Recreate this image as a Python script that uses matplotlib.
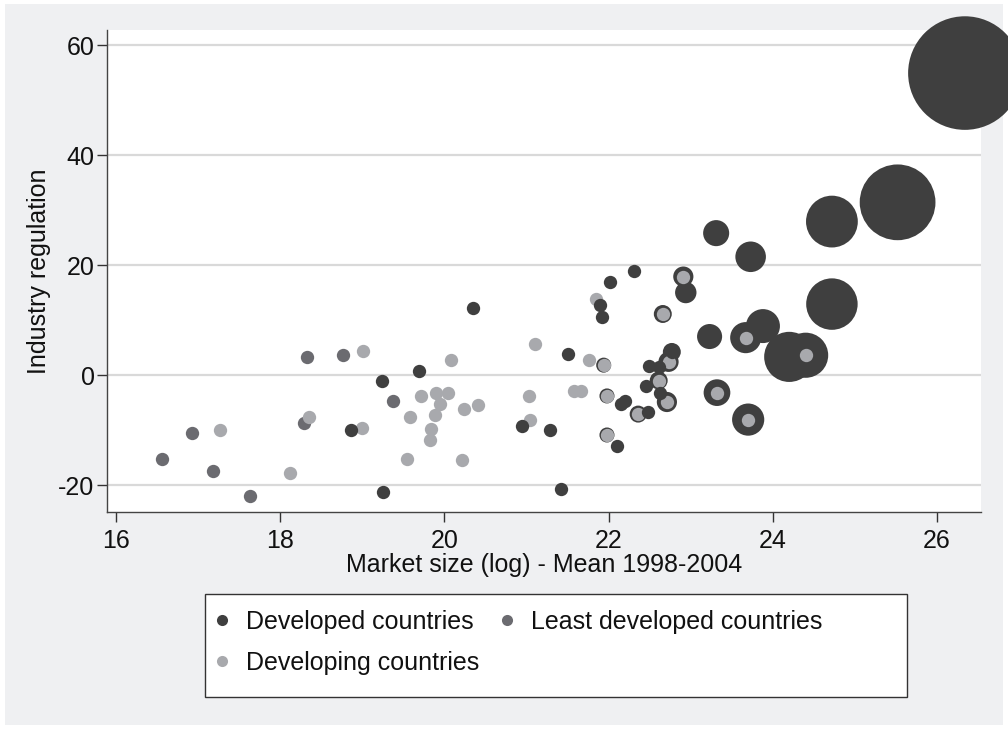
import matplotlib
matplotlib.use("Agg")
import matplotlib.pyplot as plt
from matplotlib.patches import Rectangle
from matplotlib.lines import Line2D
import numpy as np

plt.rcParams['font.family'] = ['Liberation Sans', 'DejaVu Sans']
plt.rcParams['axes.unicode_minus'] = False

# Developed countries: market size (log), industry regulation, bubble weight
dev_x = [19.24, 19.69, 18.86, 19.25, 20.35, 20.94, 21.29, 21.42, 21.51, 22.31,
         22.02, 21.90, 21.92, 22.94, 22.15, 22.20, 22.48, 22.10, 22.49, 22.61,
         22.77, 22.46, 22.63, 23.31, 23.73, 23.23, 23.88, 24.20, 24.72, 24.72,
         25.52, 26.34]
dev_y = [-1.0, 0.7, -10.0, -21.2, 12.1, -9.2, -10.0, -20.8, 3.8, 19.0,
         17.0, 12.8, 10.5, 15.0, -5.3, -4.7, -6.7, -12.9, 1.6, 1.5,
         4.2, -2.0, -3.2, 25.8, 21.5, 7.0, 8.9, 3.3, 27.9, 12.9,
         31.4, 54.9]
dev_w = [0.5, 0.5, 0.5, 0.5, 0.5, 0.5, 0.5, 0.5, 0.5, 0.5,
         0.5, 0.5, 0.5, 2.7, 0.5, 0.5, 0.5, 0.5, 0.5, 0.5,
         1.9, 0.5, 0.5, 4.0, 5.5, 3.7, 6.8, 14.8, 15.8, 15.6,
         33.8, 76.0]

# Least developed countries
ldc_x = [18.33, 18.29, 16.92, 16.56, 17.18, 17.63, 18.77, 19.37]
ldc_y = [3.3, -8.8, -10.6, -15.3, -17.4, -22.0, 3.6, -4.7]
ldc_w = [0.5, 0.5, 0.5, 0.5, 0.5, 0.5, 0.5, 0.5]

# Developing countries
dvg_x = [18.35, 17.27, 18.12, 19.01, 19.71, 19.58, 19.00, 19.55, 19.84, 19.83,
         19.88, 19.90, 20.04, 19.95, 20.08, 20.24, 20.41, 20.22, 21.10, 21.03,
         21.04, 21.58, 21.66, 21.76, 21.85, 21.94, 21.98, 21.98, 22.36, 22.61,
         22.71, 22.73, 22.66, 22.91, 23.67, 23.32, 23.70, 24.40]
dvg_y = [-7.7, -10.0, -17.9, 4.4, -3.8, -7.7, -9.6, -15.3, -9.9, -11.9,
         -7.3, -3.2, -3.3, -5.3, 2.7, -6.2, -5.5, -15.5, 5.6, -3.8,
         -8.2, -2.9, -2.9, 2.7, 13.9, 1.8, -3.8, -10.9, -7.1, -1.0,
         -4.9, 2.4, 11.1, 17.9, 6.8, -3.2, -8.1, 3.6]
dvg_w = [0.5, 0.5, 0.5, 0.5, 0.5, 0.5, 0.5, 0.5, 0.5, 0.5,
         0.5, 0.5, 0.5, 0.5, 0.5, 0.5, 0.5, 0.5, 0.5, 0.5,
         0.5, 0.5, 0.5, 0.5, 0.5, 1.33, 1.33, 1.33, 1.7, 1.9,
         2.4, 2.4, 1.9, 2.4, 5.7, 4.2, 6.1, 12.0]

group_labels = ["Developed countries", "Least developed countries", "Developing countries"]
x_ticks = [16, 18, 20, 22, 24, 26]
y_ticks = [-20, 0, 20, 40, 60]

C_DEV = "#3f3f3f"
C_LDC = "#6b6b70"
C_DVG = "#a8a9ad"
C_BG = "#eff0f2"
C_TXT = "#111111"
FS = 18
DOT_S = 92          # marker area (pt^2) of the group dots
W_UNIT = 88         # marker area (pt^2) per unit of weight

fig = plt.figure(figsize=(10.08, 7.30), dpi=100, facecolor="white")
fig.patches.append(Rectangle((5 / 1008, 1 - 725 / 730), 998 / 1008, 721 / 730,
                             transform=fig.transFigure, facecolor=C_BG,
                             edgecolor="none", zorder=-10))

ax = fig.add_axes([107 / 1008, 1 - 512 / 730, 874 / 1008, 482 / 730])
ax.set_facecolor("white")
ax.set_xlim(15.89, 26.536)
ax.set_ylim(-24.9, 62.73)

# weighted bubbles for every country
all_x = np.concatenate([dev_x, ldc_x, dvg_x])
all_y = np.concatenate([dev_y, ldc_y, dvg_y])
all_w = np.concatenate([dev_w, ldc_w, dvg_w])
ax.scatter(all_x, all_y, s=all_w * W_UNIT, c=C_DEV, linewidths=0,
           zorder=3, clip_on=False)

# group markers on top
ax.scatter(ldc_x, ldc_y, s=DOT_S, c=C_LDC, linewidths=0, zorder=4)
ax.scatter(dvg_x, dvg_y, s=DOT_S, c=C_DVG, linewidths=0, zorder=5)
ax.scatter(dev_x, dev_y, s=DOT_S, c=C_DEV, linewidths=0, zorder=6)

for v in y_ticks:
    ax.axhline(v, color="#d9d9d9", lw=1.6, zorder=1)

ax.set_xticks(x_ticks)
ax.set_yticks(y_ticks)
ax.tick_params(axis="both", direction="out", length=7, width=1.0,
               color="#333333", labelsize=FS, labelcolor=C_TXT)
ax.tick_params(axis="y", pad=2)
ax.tick_params(axis="x", pad=5)
for side in ("top", "right"):
    ax.spines[side].set_visible(False)
for side in ("left", "bottom"):
    ax.spines[side].set_color("#444444")
    ax.spines[side].set_linewidth(1.0)

ax.set_xlabel("Market size (log) - Mean 1998-2004", fontsize=FS, color=C_TXT, labelpad=0)
ax.set_ylabel("Industry regulation", fontsize=FS, color=C_TXT, labelpad=5)

# legend box
fig.patches.append(Rectangle((205 / 1008, 1 - 697 / 730), 702 / 1008, 103 / 730,
                             transform=fig.transFigure, facecolor="white",
                             edgecolor="#333333", lw=1.0, zorder=1))
handles = [
    Line2D([], [], ls="none", marker="o", ms=8, mfc=C_DEV, mec="none"),
    Line2D([], [], ls="none", marker="o", ms=8, mfc=C_DVG, mec="none"),
    Line2D([], [], ls="none", marker="o", ms=8, mfc=C_LDC, mec="none"),
]
labels = [group_labels[0], group_labels[2], group_labels[1]]
leg = fig.legend(handles, labels, ncol=2, loc="upper left",
                 bbox_to_anchor=(212 / 1008, 1 - 610 / 730), frameon=False,
                 fontsize=FS, handlelength=0.8, handletextpad=0.55,
                 columnspacing=0.72, labelspacing=0.68, borderaxespad=0,
                 borderpad=0)
for t in leg.get_texts():
    t.set_color(C_TXT)

fig.savefig("out.png", dpi=100, facecolor="white")
